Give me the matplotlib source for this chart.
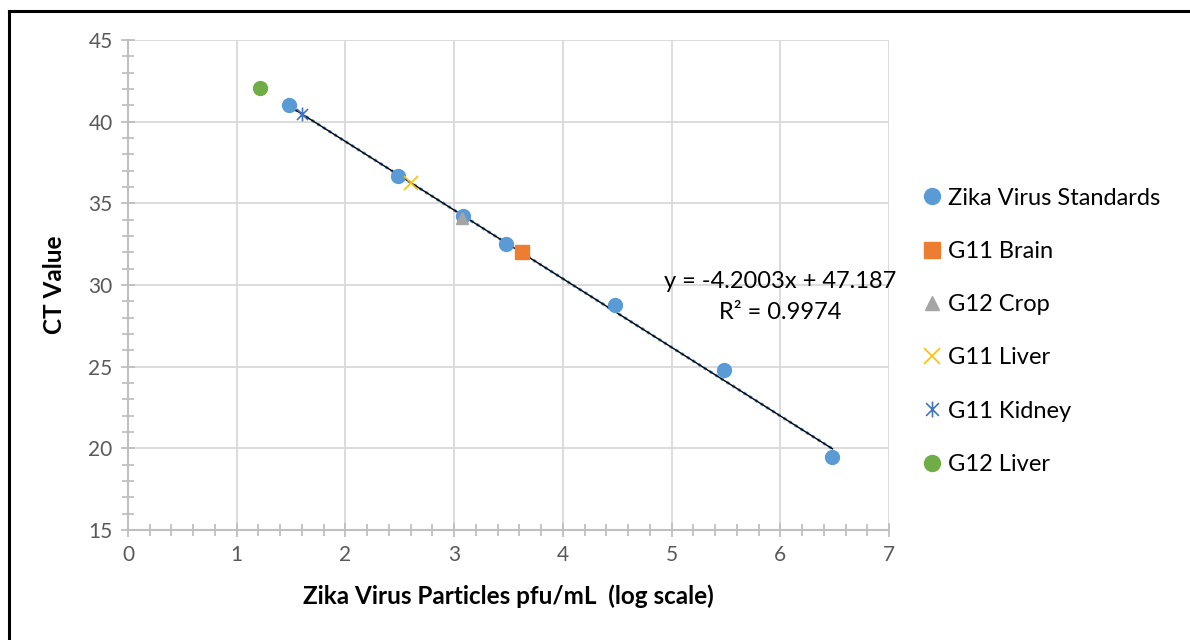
import matplotlib
matplotlib.use("Agg")
import matplotlib.pyplot as plt
from matplotlib.path import Path
from matplotlib.lines import Line2D
from matplotlib.ticker import MultipleLocator

plt.rcParams['font.family'] = ['Lato', 'DejaVu Sans']

# Data
std_x = [1.48, 2.48, 3.08, 3.48, 4.48, 5.48, 6.48]
std_y = [41.0, 36.7, 34.2, 32.5, 28.8, 24.8, 19.45]
brain_x = [3.62]
brain_y = [32.0]
crop_x = [3.07]
crop_y = [34.1]
g11_liver_x = [2.60]
g11_liver_y = [36.25]
kidney_x = [1.60]
kidney_y = [40.45]
g12_liver_x = [1.21]
g12_liver_y = [42.05]
trend_slope = -4.2003
trend_intercept = 47.187
trend_r2 = 0.9974

fig = plt.figure(figsize=(11.9, 6.4), dpi=100)
ax = fig.add_axes([128/1190, 110/640, (889-128)/1190, (530-40)/640])

blue = '#5B9BD5'
# trendline
tx = [min(std_x), max(std_x)]
ty = [trend_slope * v + trend_intercept for v in tx]
ax.plot(tx, ty, color=blue, lw=2.2, ls=(0, (1, 1.2)), zorder=3)
ax.plot(tx, ty, color='black', lw=1.0, zorder=4)

star = Path([(-1, -1), (1, 1), (-1, 1), (1, -1), (0, -1.25), (0, 1.25)],
            [Path.MOVETO, Path.LINETO, Path.MOVETO, Path.LINETO, Path.MOVETO, Path.LINETO])

ax.plot(std_x, std_y, 'o', ms=10, color=blue, mec=blue, label='Zika Virus Standards', zorder=5)
ax.plot(brain_x, brain_y, 's', ms=10, color='#ED7D31', mec='#ED7D31', label='G11 Brain', zorder=6)
ax.plot(crop_x, crop_y, '^', ms=9, color='#A5A5A5', mec='#A5A5A5', label='G12 Crop', zorder=6)
ax.plot(g11_liver_x, g11_liver_y, 'x', ms=10, mew=1.2, color='#FFC000', label='G11 Liver', zorder=6)
ax.plot(kidney_x, kidney_y, ls='none', marker=star, ms=10, mew=1.2, color='#4472C4', mfc='none',
        label='G11 Kidney', zorder=6)
ax.plot(g12_liver_x, g12_liver_y, 'o', ms=10, color='#70AD47', mec='#70AD47', label='G12 Liver', zorder=6)

ax.set_xlim(0, 7)
ax.set_ylim(15, 45)
ax.xaxis.set_major_locator(MultipleLocator(1))
ax.xaxis.set_minor_locator(MultipleLocator(0.2))
ax.yaxis.set_major_locator(MultipleLocator(5))
ax.yaxis.set_minor_locator(MultipleLocator(1))
ax.grid(True, which='major', color='#D9D9D9', lw=1.3, zorder=0)
ax.set_axisbelow(True)
for s in ['top', 'right']:
    ax.spines[s].set_visible(False)
for s in ['left', 'bottom']:
    ax.spines[s].set_color('#BFBFBF')
    ax.spines[s].set_linewidth(1.5)
ax.tick_params(which='both', direction='inout', color='#BFBFBF', width=1.3,
               labelsize=15, labelcolor='#595959')
ax.tick_params(which='major', length=10, pad=6)
ax.tick_params(which='minor', length=8)

ax.set_xlabel('Zika Virus Particles pfu/mL  (log scale)', fontsize=17.5, fontweight='bold',
              color='black', labelpad=14)
ax.set_ylabel('CT Value', fontsize=17.5, fontweight='bold', color='black', labelpad=16)

ax.text(6.0, 30.2, 'y = -4.2003x + 47.187', fontsize=17, ha='center', va='center', zorder=7)
ax.text(6.0, 28.3, 'R² = {:.4f}'.format(trend_r2), fontsize=17, ha='center', va='center', zorder=7)

leg = ax.legend(loc='upper left', bbox_to_anchor=(1.035, 0.718), frameon=False,
                fontsize=17, handlelength=0.6, handletextpad=0.35, labelspacing=1.365,
                borderaxespad=0, markerscale=1.15)

fig.add_artist(Line2D([8.5/1190, 8.5/1190], [0, 1 - 11/640], color='black', lw=2.2))
fig.add_artist(Line2D([8.5/1190, 1.0], [1 - 11/640, 1 - 11/640], color='black', lw=2.2))

fig.savefig('out.png', dpi=100, facecolor='white')
